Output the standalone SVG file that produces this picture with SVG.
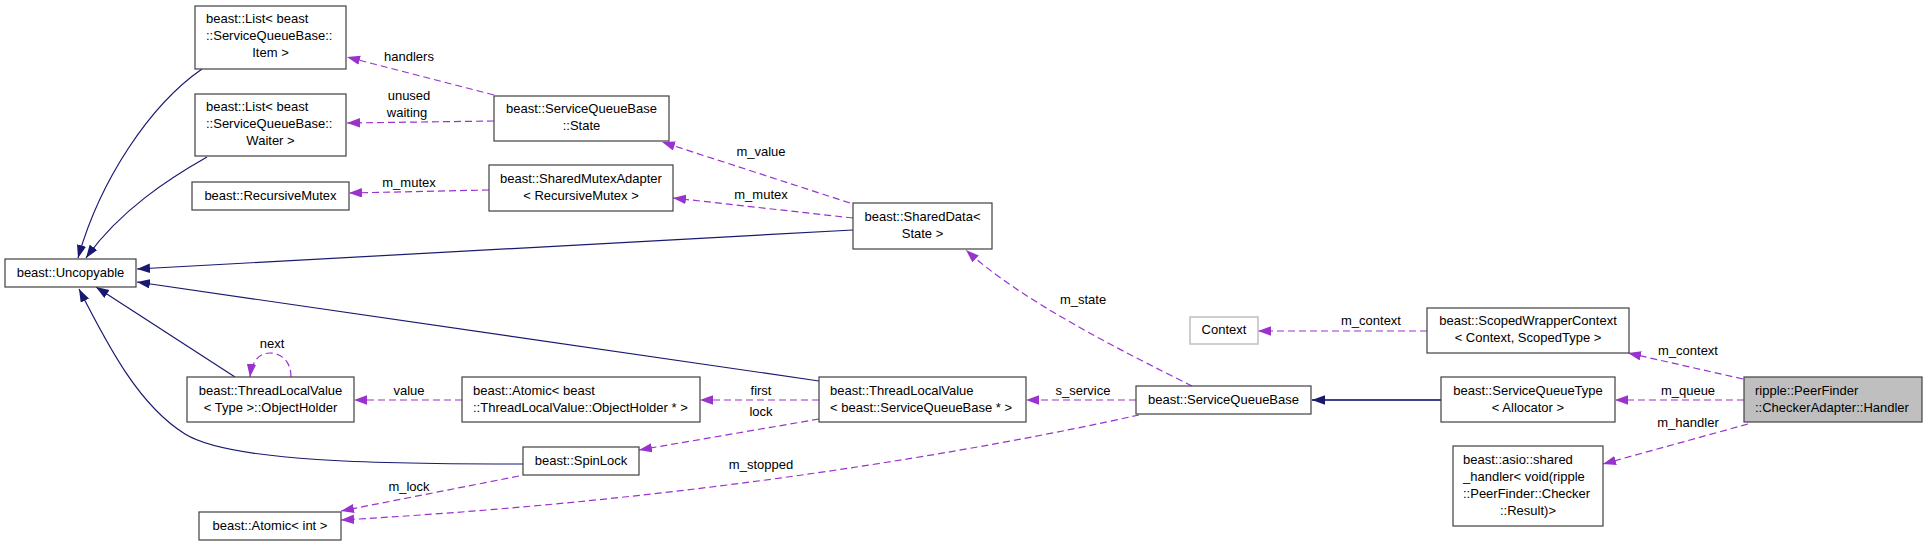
<svg xmlns="http://www.w3.org/2000/svg" width="1928" height="547" viewBox="0 0 1928 547">
<style>
text{font-family:"Liberation Sans",Arial,sans-serif;font-size:13px;fill:#000}
.c{text-anchor:middle}
.box{fill:#fff;stroke:#404040;stroke-width:1.2}
.gray{fill:#fff;stroke:#bfbfbf;stroke-width:1.5}
.sel{fill:#bfbfbf;stroke:#404040;stroke-width:1.2}
.inh{fill:none;stroke:#191970;stroke-width:1.2;marker-end:url(#an)}
.use{fill:none;stroke:#9a32cd;stroke-width:1.2;stroke-dasharray:7,4;marker-end:url(#ap)}
</style>
<defs>
<marker id="an" markerUnits="userSpaceOnUse" markerWidth="14" markerHeight="10" refX="13" refY="4.7" orient="auto"><path d="M0,0 L13,4.7 L0,9.4 z" fill="#191970"/></marker>
<marker id="ap" markerUnits="userSpaceOnUse" markerWidth="14" markerHeight="10" refX="13" refY="4.7" orient="auto"><path d="M0,0 L13,4.7 L0,9.4 z" fill="#9a32cd"/></marker>
</defs>
<rect width="1928" height="547" fill="#fff"/>
<g id="connectors">
<path class="inh" d="M202,69 C150,105 100,180 78,258"/>
<path class="inh" d="M207,157 C170,178 120,210 86,258"/>
<path class="inh" d="M853,230 L137,269"/>
<path class="inh" d="M819,381 L137,282"/>
<path class="inh" d="M235,377 L96,287"/>
<path class="inh" d="M523,464 C380,464 230,462 185,434 C140,406 110,350 79,289"/>
<path class="inh" d="M1441,400 L1312,400" style="stroke:#40408a;stroke-width:2"/>
<path class="use" d="M494,95 L347,57"/>
<path class="use" d="M494,121 L347,123"/>
<path class="use" d="M489,190 L349,193"/>
<path class="use" d="M850,203 L662,142"/>
<path class="use" d="M853,218 L673,198"/>
<path class="use" d="M1192,386 C1120,350 1020,300 966,250"/>
<path class="use" d="M1136,400 L1026,400"/>
<path class="use" d="M819,400 L700,400"/>
<path class="use" d="M462,400 L354,400"/>
<path class="use" d="M819,419 L639,450"/>
<path class="use" d="M519,476 L341,511"/>
<path class="use" d="M1139,415 C980,450 700,500 341,520"/>
<path class="use" d="M291,377 C291,360 280,353 270,353 C260,353 252,360 250,377"/>
<path class="use" d="M1427,331 L1258,331"/>
<path class="use" d="M1743,379 L1628,353"/>
<path class="use" d="M1744,400 L1615,400"/>
<path class="use" d="M1748,424 L1603,464"/>
<text class="c" x="409" y="61">handlers</text>
<text class="c" x="409" y="100">unused</text>
<text class="c" x="407" y="117">waiting</text>
<text class="c" x="409" y="187">m_mutex</text>
<text class="c" x="761" y="156">m_value</text>
<text class="c" x="761" y="199">m_mutex</text>
<text class="c" x="1083" y="304">m_state</text>
<text class="c" x="1371" y="325">m_context</text>
<text class="c" x="272" y="348">next</text>
<text class="c" x="409" y="395">value</text>
<text class="c" x="761" y="395">first</text>
<text class="c" x="761" y="416">lock</text>
<text class="c" x="1083" y="395">s_service</text>
<text class="c" x="761" y="469">m_stopped</text>
<text class="c" x="409" y="491">m_lock</text>
<text class="c" x="1688" y="355">m_context</text>
<text class="c" x="1688" y="395">m_queue</text>
<text class="c" x="1688" y="427">m_handler</text>
</g>
<g id="n_list_item"><rect class="box" x="195" y="6" width="151" height="63"/><text x="206" y="23">beast::List&lt; beast</text><text x="206" y="40">::ServiceQueueBase::</text><text class="c" x="270.5" y="57">Item &gt;</text></g>
<g id="n_list_waiter"><rect class="box" x="195" y="94" width="151" height="62"/><text x="206" y="111">beast::List&lt; beast</text><text x="206" y="128">::ServiceQueueBase::</text><text class="c" x="270.5" y="145">Waiter &gt;</text></g>
<g id="n_recursive_mutex"><rect class="box" x="192" y="182" width="157" height="28"/><text class="c" x="270.5" y="200">beast::RecursiveMutex</text></g>
<g id="n_uncopyable"><rect class="box" x="5" y="259" width="131" height="28"/><text class="c" x="70.5" y="277">beast::Uncopyable</text></g>
<g id="n_state"><rect class="box" x="494" y="96" width="175" height="45"/><text class="c" x="581.5" y="113">beast::ServiceQueueBase</text><text class="c" x="581.5" y="130">::State</text></g>
<g id="n_shared_mutex"><rect class="box" x="489" y="165" width="184" height="46"/><text class="c" x="581" y="183">beast::SharedMutexAdapter</text><text class="c" x="581" y="200">&lt; RecursiveMutex &gt;</text></g>
<g id="n_shared_data"><rect class="box" x="853" y="203" width="139" height="46"/><text class="c" x="922.5" y="221">beast::SharedData&lt;</text><text class="c" x="922.5" y="238">State &gt;</text></g>
<g id="n_objholder"><rect class="box" x="187" y="377" width="167" height="45"/><text class="c" x="270.5" y="395">beast::ThreadLocalValue</text><text class="c" x="270.5" y="412">&lt; Type &gt;::ObjectHolder</text></g>
<g id="n_atomic_oh"><rect class="box" x="462" y="377" width="238" height="45"/><text x="473" y="395">beast::Atomic&lt; beast</text><text x="473" y="412">::ThreadLocalValue::ObjectHolder * &gt;</text></g>
<g id="n_spinlock"><rect class="box" x="523" y="447" width="116" height="28"/><text class="c" x="581" y="465">beast::SpinLock</text></g>
<g id="n_atomic_int"><rect class="box" x="199" y="512" width="142" height="28"/><text class="c" x="270" y="530">beast::Atomic&lt; int &gt;</text></g>
<g id="n_tlv_sqb"><rect class="box" x="819" y="377" width="207" height="45"/><text x="830" y="395">beast::ThreadLocalValue</text><text x="830" y="412">&lt; beast::ServiceQueueBase * &gt;</text></g>
<g id="n_sqb"><rect class="box" x="1136" y="386" width="175" height="28"/><text class="c" x="1223.5" y="404">beast::ServiceQueueBase</text></g>
<g id="n_context"><rect class="gray" x="1190" y="317" width="68" height="27"/><text class="c" x="1224" y="334">Context</text></g>
<g id="n_scoped"><rect class="box" x="1427" y="308" width="202" height="45"/><text class="c" x="1528" y="325">beast::ScopedWrapperContext</text><text class="c" x="1528" y="342">&lt; Context, ScopedType &gt;</text></g>
<g id="n_sqtype"><rect class="box" x="1441" y="377" width="174" height="45"/><text class="c" x="1528" y="395">beast::ServiceQueueType</text><text class="c" x="1528" y="412">&lt; Allocator &gt;</text></g>
<g id="n_asio"><rect class="box" x="1453" y="446" width="150" height="80"/><text x="1463" y="464">beast::asio::shared</text><text x="1463" y="481">_handler&lt; void(ripple</text><text x="1463" y="498">::PeerFinder::Checker</text><text class="c" x="1528" y="515">::Result)&gt;</text></g>
<g id="n_handler"><rect class="sel" x="1744" y="377" width="178" height="45"/><text x="1755" y="395">ripple::PeerFinder</text><text x="1755" y="412">::CheckerAdapter::Handler</text></g>
</svg>
